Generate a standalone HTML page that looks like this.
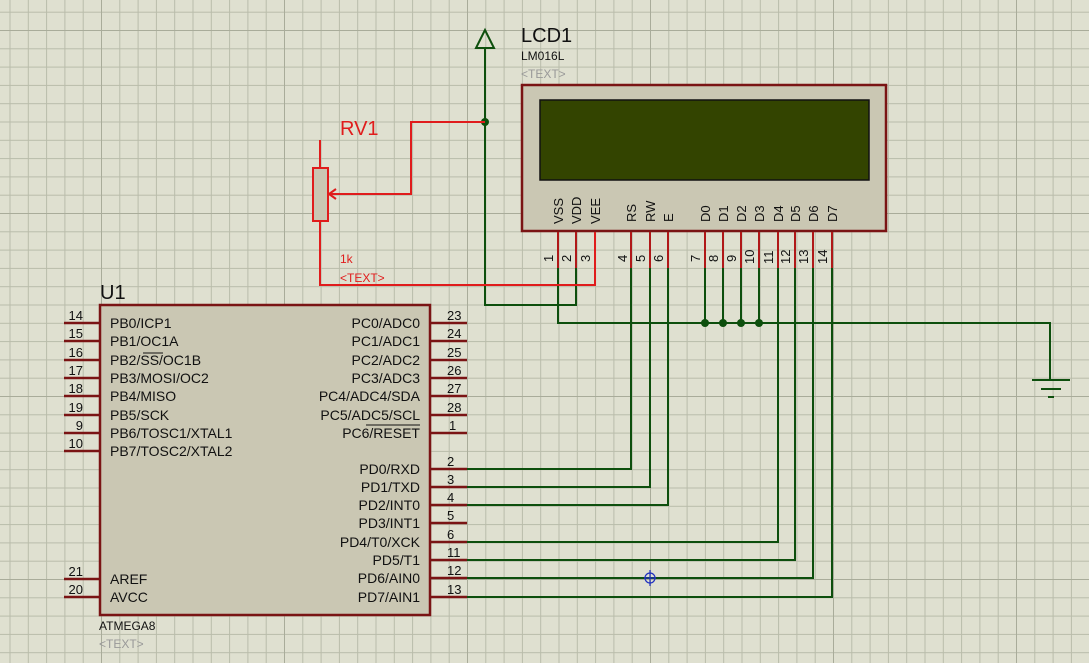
<!DOCTYPE html>
<html><head><meta charset="utf-8"><style>
html,body{margin:0;padding:0;background:#dfe0d0;}
svg{display:block;}
text{font-family:"Liberation Sans",sans-serif;}
</style></head><body>
<svg width="1089" height="663" viewBox="0 0 1089 663" xmlns="http://www.w3.org/2000/svg">
<defs>
<pattern id="g" x="9.5" y="11.7" width="18.3" height="18.3" patternUnits="userSpaceOnUse">
<path d="M0.5 0V18.3M0 0.5H18.3" stroke="#b9bcaa" stroke-width="1" fill="none"/>
</pattern>
<pattern id="G" x="101" y="30" width="183" height="183" patternUnits="userSpaceOnUse">
<path d="M0 0V183M0 0H183" stroke="#a9ac9a" stroke-width="2" fill="none"/>
</pattern>
</defs>
<rect width="1089" height="663" fill="#dfe0d0"/>
<rect width="1089" height="663" fill="url(#g)"/>
<rect width="1089" height="663" fill="url(#G)"/>

<!-- U1 -->
<rect x="100" y="305" width="330" height="310" fill="#cac7b3" stroke="#7a1414" stroke-width="2.5"/>
<g stroke="#7a1414" stroke-width="2.5">
<path d="M64 323H100M64 341H100M64 360H100M64 378H100M64 396H100M64 415H100M64 433H100M64 451H100M64 579H100M64 597H100"/>
<path d="M430 323H467M430 341H467M430 360H467M430 378H467M430 396H467M430 415H467M430 433H467"/>
<path d="M430 469H467M430 487H467M430 505H467M430 523H467M430 542H467M430 560H467M430 578H467M430 597H467"/>
</g>
<g font-size="14" fill="#111">
<text x="110" y="328">PB0/ICP1</text>
<text x="110" y="346">PB1/OC1A</text>
<text x="110" y="365">PB2/SS/OC1B</text>
<text x="110" y="383">PB3/MOSI/OC2</text>
<text x="110" y="401">PB4/MISO</text>
<text x="110" y="420">PB5/SCK</text>
<text x="110" y="438">PB6/TOSC1/XTAL1</text>
<text x="110" y="456">PB7/TOSC2/XTAL2</text>
<text x="110" y="584">AREF</text>
<text x="110" y="602">AVCC</text>
</g>
<path d="M143 353H163" stroke="#111" stroke-width="1"/>
<g font-size="14" fill="#111" text-anchor="end">
<text x="420" y="328">PC0/ADC0</text>
<text x="420" y="346">PC1/ADC1</text>
<text x="420" y="365">PC2/ADC2</text>
<text x="420" y="383">PC3/ADC3</text>
<text x="420" y="401">PC4/ADC4/SDA</text>
<text x="420" y="420">PC5/ADC5/SCL</text>
<text x="420" y="438">PC6/RESET</text>
<text x="420" y="474">PD0/RXD</text>
<text x="420" y="492">PD1/TXD</text>
<text x="420" y="510">PD2/INT0</text>
<text x="420" y="528">PD3/INT1</text>
<text x="420" y="547">PD4/T0/XCK</text>
<text x="420" y="565">PD5/T1</text>
<text x="420" y="583">PD6/AIN0</text>
<text x="420" y="602">PD7/AIN1</text>
</g>
<path d="M366 425H420" stroke="#111" stroke-width="1"/>
<g font-size="13" fill="#111" text-anchor="end">
<text x="83" y="320">14</text><text x="83" y="338">15</text><text x="83" y="357">16</text><text x="83" y="375">17</text>
<text x="83" y="393">18</text><text x="83" y="412">19</text><text x="83" y="430">9</text><text x="83" y="448">10</text>
<text x="83" y="576">21</text><text x="83" y="594">20</text>
</g>
<g font-size="13" fill="#111">
<text x="447" y="320">23</text><text x="447" y="338">24</text><text x="447" y="357">25</text><text x="447" y="375">26</text>
<text x="447" y="393">27</text><text x="447" y="412">28</text><text x="449" y="430">1</text>
<text x="447" y="466">2</text><text x="447" y="484">3</text><text x="447" y="502">4</text><text x="447" y="520">5</text>
<text x="447" y="539">6</text><text x="447" y="557">11</text><text x="447" y="575">12</text><text x="447" y="594">13</text>
</g>
<text x="100" y="299" font-size="20" fill="#111">U1</text>
<text x="99" y="630" font-size="12" fill="#111">ATMEGA8</text>
<text x="99" y="648" font-size="12" fill="#999">&lt;TEXT&gt;</text>

<!-- LCD -->
<rect x="522" y="85" width="364" height="146" fill="#cac7b3" stroke="#7a1414" stroke-width="2.5"/>
<rect x="540" y="100" width="329" height="80" fill="#334400" stroke="#111" stroke-width="1.5"/>
<text x="521" y="42" font-size="20" fill="#111">LCD1</text>
<text x="521" y="60" font-size="12" fill="#111">LM016L</text>
<text x="521" y="78" font-size="12" fill="#999">&lt;TEXT&gt;</text>
<g font-size="13" fill="#111">
<text transform="translate(563,224) rotate(-90)">VSS</text>
<text transform="translate(581,224) rotate(-90)">VDD</text>
<text transform="translate(600,224) rotate(-90)">VEE</text>
<text transform="translate(636,222) rotate(-90)">RS</text>
<text transform="translate(655,222) rotate(-90)">RW</text>
<text transform="translate(673,222) rotate(-90)">E</text>
<text transform="translate(710,222) rotate(-90)">D0</text>
<text transform="translate(728,222) rotate(-90)">D1</text>
<text transform="translate(746,222) rotate(-90)">D2</text>
<text transform="translate(764,222) rotate(-90)">D3</text>
<text transform="translate(783,222) rotate(-90)">D4</text>
<text transform="translate(800,222) rotate(-90)">D5</text>
<text transform="translate(818,222) rotate(-90)">D6</text>
<text transform="translate(837,222) rotate(-90)">D7</text>
</g>
<g font-size="13" fill="#111">
<text transform="translate(553,262) rotate(-90)">1</text>
<text transform="translate(571,262) rotate(-90)">2</text>
<text transform="translate(590,262) rotate(-90)">3</text>
<text transform="translate(627,262) rotate(-90)">4</text>
<text transform="translate(645,262) rotate(-90)">5</text>
<text transform="translate(663,262) rotate(-90)">6</text>
<text transform="translate(700,262) rotate(-90)">7</text>
<text transform="translate(718,262) rotate(-90)">8</text>
<text transform="translate(736,262) rotate(-90)">9</text>
<text transform="translate(754,264) rotate(-90)">10</text>
<text transform="translate(773,264) rotate(-90)">11</text>
<text transform="translate(790,264) rotate(-90)">12</text>
<text transform="translate(808,264) rotate(-90)">13</text>
<text transform="translate(827,264) rotate(-90)">14</text>
</g>

<!-- green wires -->
<g stroke="#0d4f0d" stroke-width="2" fill="none">
<path d="M485 48V305H576V268"/>
<path d="M558 268V323H1050V380"/>
<path d="M1032 380H1070M1041 389H1061M1048 397H1054"/>
<path d="M631 268V469H467M650 268V487H467M668 268V505H467"/>
<path d="M705 268V323M723 268V323M741 268V323M759 268V323"/>
<path d="M778 268V542H467M795 268V560H467M813 268V578H467M832 268V597H467"/>
<path d="M485 30L476 48H494Z"/>
</g>
<g fill="#0d4f0d">
<circle cx="485" cy="122" r="4"/>
<circle cx="705" cy="323" r="4"/><circle cx="723" cy="323" r="4"/><circle cx="741" cy="323" r="4"/><circle cx="759" cy="323" r="4"/>
</g>
<g stroke="#b01818" stroke-width="2">
<path d="M558 232V268M576 232V268M631 232V268M650 232V268M668 232V268M705 232V268M723 232V268M741 232V268M759 232V268M778 232V268M795 232V268M813 232V268M832 232V268"/>
</g>
<g stroke="#e01c1c" stroke-width="2" fill="none">
<path d="M595 232V285H320V221"/>
<path d="M320 140V168"/>
<path d="M485 122H411V194H330"/>
<path d="M336 189L329 194L336 199"/>
</g>
<rect x="313" y="168" width="15" height="53" fill="#cac7b3" stroke="#e01c1c" stroke-width="2"/>
<text x="340" y="135" font-size="20" fill="#e01c1c">RV1</text>
<text x="340" y="263" font-size="12" fill="#e01c1c">1k</text>
<text x="340" y="282" font-size="12" fill="#e01c1c">&lt;TEXT&gt;</text>

<g stroke="#2030c0" stroke-width="1.2" fill="none">
<circle cx="650" cy="578" r="5"/>
<path d="M650 570V586M644 578H656"/>
</g>
</svg>
</body></html>
